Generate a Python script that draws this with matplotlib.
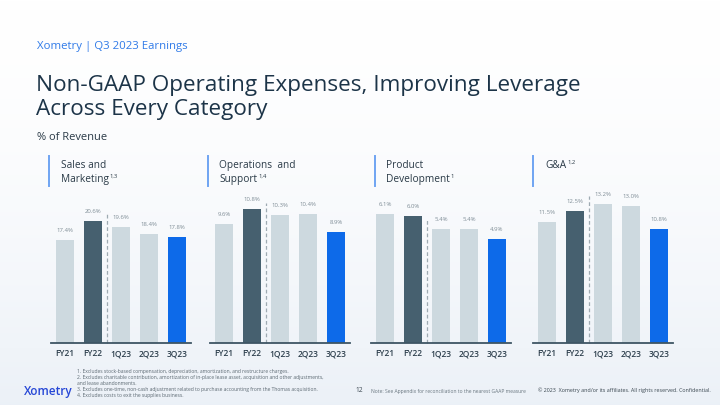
import matplotlib
matplotlib.use("Agg")
import matplotlib.pyplot as plt
import numpy as np

plt.rcParams['font.family'] = ['Open Sans', 'DejaVu Sans']

# ---- data ----
categories = ["FY21", "FY22", "1Q23", "2Q23", "3Q23"]
panel_titles = [("Sales and", "Marketing", "1,3"),
                ("Operations  and", "Support", "1,4"),
                ("Product", "Development", "1"),
                ("G&A", "", "1,2")]
sales_marketing = [17.4, 20.6, 19.6, 18.4, 17.8]
ops_support = [9.6, 10.8, 10.3, 10.4, 8.9]
product_dev = [6.1, 6.0, 5.4, 5.4, 4.9]
g_and_a = [11.5, 12.5, 13.2, 13.0, 10.8]
series = [sales_marketing, ops_support, product_dev, g_and_a]
footnotes = [
    "1. Excludes stock-based compensation, depreciation, amortization, and restructure charges.",
    "2. Excludes charitable contribution, amortization of in-place lease asset, acquisition and other adjustments,",
    "and lease abandonments.",
    "3. Excludes one-time, non-cash adjustment related to purchase accounting from the Thomas acquisition.",
    "4. Excludes costs to exit the supplies business.",
]

# ---- style ----
W, H = 720, 405
fig = plt.figure(figsize=(W / 100, H / 100), dpi=100)

# background gradient
bg = fig.add_axes([0, 0, 1, 1], zorder=-10)
grad = np.linspace(0, 1, 256).reshape(-1, 1)
c_top = np.array([1.0, 1.0, 1.0])
c_bot = np.array([0.925, 0.945, 0.97])
img = c_top + (c_bot - c_top) * (grad ** 1.6)[:, :, None]
bg.imshow(np.repeat(img, 2, axis=1), aspect='auto', extent=[0, 1, 0, 1], origin='upper')
bg.set_axis_off()

def fx(px):
    return px / W

def fy(py):
    return 1 - py / H

NAVY = "#1c3448"
BLUE_HDR = "#2f7ae8"
LIGHT = "#cdd9df"
DARK = "#46606f"
BLUE = "#0d6ae9"
GRAY_TXT = "#7f8d96"

fig.text(fx(37), fy(47), "Xometry | Q3 2023 Earnings", color=BLUE_HDR, fontsize=8.2,
         va='center', ha='left')
fig.text(fx(36), fy(91), "Non-GAAP Operating Expenses, Improving Leverage", color=NAVY,
         fontsize=16.2, va='baseline', ha='left')
fig.text(fx(36), fy(115), "Across Every Category", color=NAVY,
         fontsize=16.2, va='baseline', ha='left')
fig.text(fx(37), fy(137), "% of Revenue", color="#2a3a47", fontsize=8, va='center', ha='left')

panel_left = [51, 210, 371, 533]
panel_width = 140
base_y = 343
top_y = 200
ymax = [24.1, 11.5, 6.75, 13.55]
divider_top = [0.91, 0.98, 0.86, 1.03]
hdr_bar_x = [49, 208, 375, 533]
hdr_text_x = [61, 219, 386, 545]

colors = [LIGHT, DARK, LIGHT, LIGHT, BLUE]

for i, vals in enumerate(series):
    ax = fig.add_axes([fx(panel_left[i]), fy(base_y), panel_width / W, (base_y - top_y) / H])
    ax.patch.set_alpha(0)
    x = np.arange(len(categories))
    ax.bar(x, vals, width=0.67, color=colors, zorder=2)
    ax.set_xlim(-0.5, 4.5)
    ax.set_ylim(0, ymax[i])
    for xi, v in zip(x, vals):
        ax.annotate(f"{v:.1f}%", (xi, v), xytext=(0, 5), textcoords='offset points',
                    ha='center', va='bottom', fontsize=4.3, color=GRAY_TXT, annotation_clip=False)
    ax.set_xticks(x)
    ax.set_xticklabels(categories, fontsize=6.0, color="#2c3e4c", fontweight='semibold')
    ax.tick_params(axis='x', length=0, pad=4.5)
    ax.set_yticks([])
    for s in ['top', 'right', 'left']:
        ax.spines[s].set_visible(False)
    ax.spines['bottom'].set_color("#3e5564")
    ax.spines['bottom'].set_linewidth(1.3)
    ax.plot([1.5, 1.5], [0, divider_top[i] * ymax[i]], ls=(0, (3, 2)), color="#9eaab2",
            lw=0.9, clip_on=False, zorder=1)

    # header
    fig.add_artist(plt.Line2D([fx(hdr_bar_x[i])] * 2, [fy(156), fy(186)], color="#6fa4f2", lw=1.4))
    l1, l2, sup = panel_titles[i]
    if l2:
        fig.text(fx(hdr_text_x[i]), fy(168), l1, color="#2a3a47", fontsize=7.3, va='baseline')
        t2 = fig.text(fx(hdr_text_x[i]), fy(182), l2, color="#2a3a47", fontsize=7.3, va='baseline')
    else:
        t2 = fig.text(fx(hdr_text_x[i]), fy(168), l1, color="#2a3a47", fontsize=7.3, va='baseline')
    fig.add_artist(matplotlib.text.Annotation(sup, xy=(1, 0.55), xycoords=t2, xytext=(0.6, 0),
                                              textcoords='offset points', fontsize=4.2,
                                              color="#2a3a47", va='bottom', ha='left'))

# footer
for j, line in enumerate(footnotes):
    fig.text(fx(77), fy([371, 377, 383.5, 390, 396][j]), line, fontsize=3.6, color="#5d6a73",
             va='center', ha='left')
fig.text(fx(24), fy(391), "Xometry", fontsize=8.5, color="#2647d6", va='center', ha='left',
         fontweight='semibold')
fig.text(fx(355), fy(391), "12", fontsize=4.8, color="#3a4750", va='center', ha='left')
fig.text(fx(371), fy(391), "Note: See Appendix for reconciliation to the nearest GAAP measure",
         fontsize=3.6, color="#6a7780", va='center', ha='left')
fig.text(fx(538), fy(390), "© 2023  Xometry and/or its affiliates. All rights reserved. Confidential.",
         fontsize=3.9, color="#3a4750", va='center', ha='left')

fig.savefig("out.png", dpi=100)
